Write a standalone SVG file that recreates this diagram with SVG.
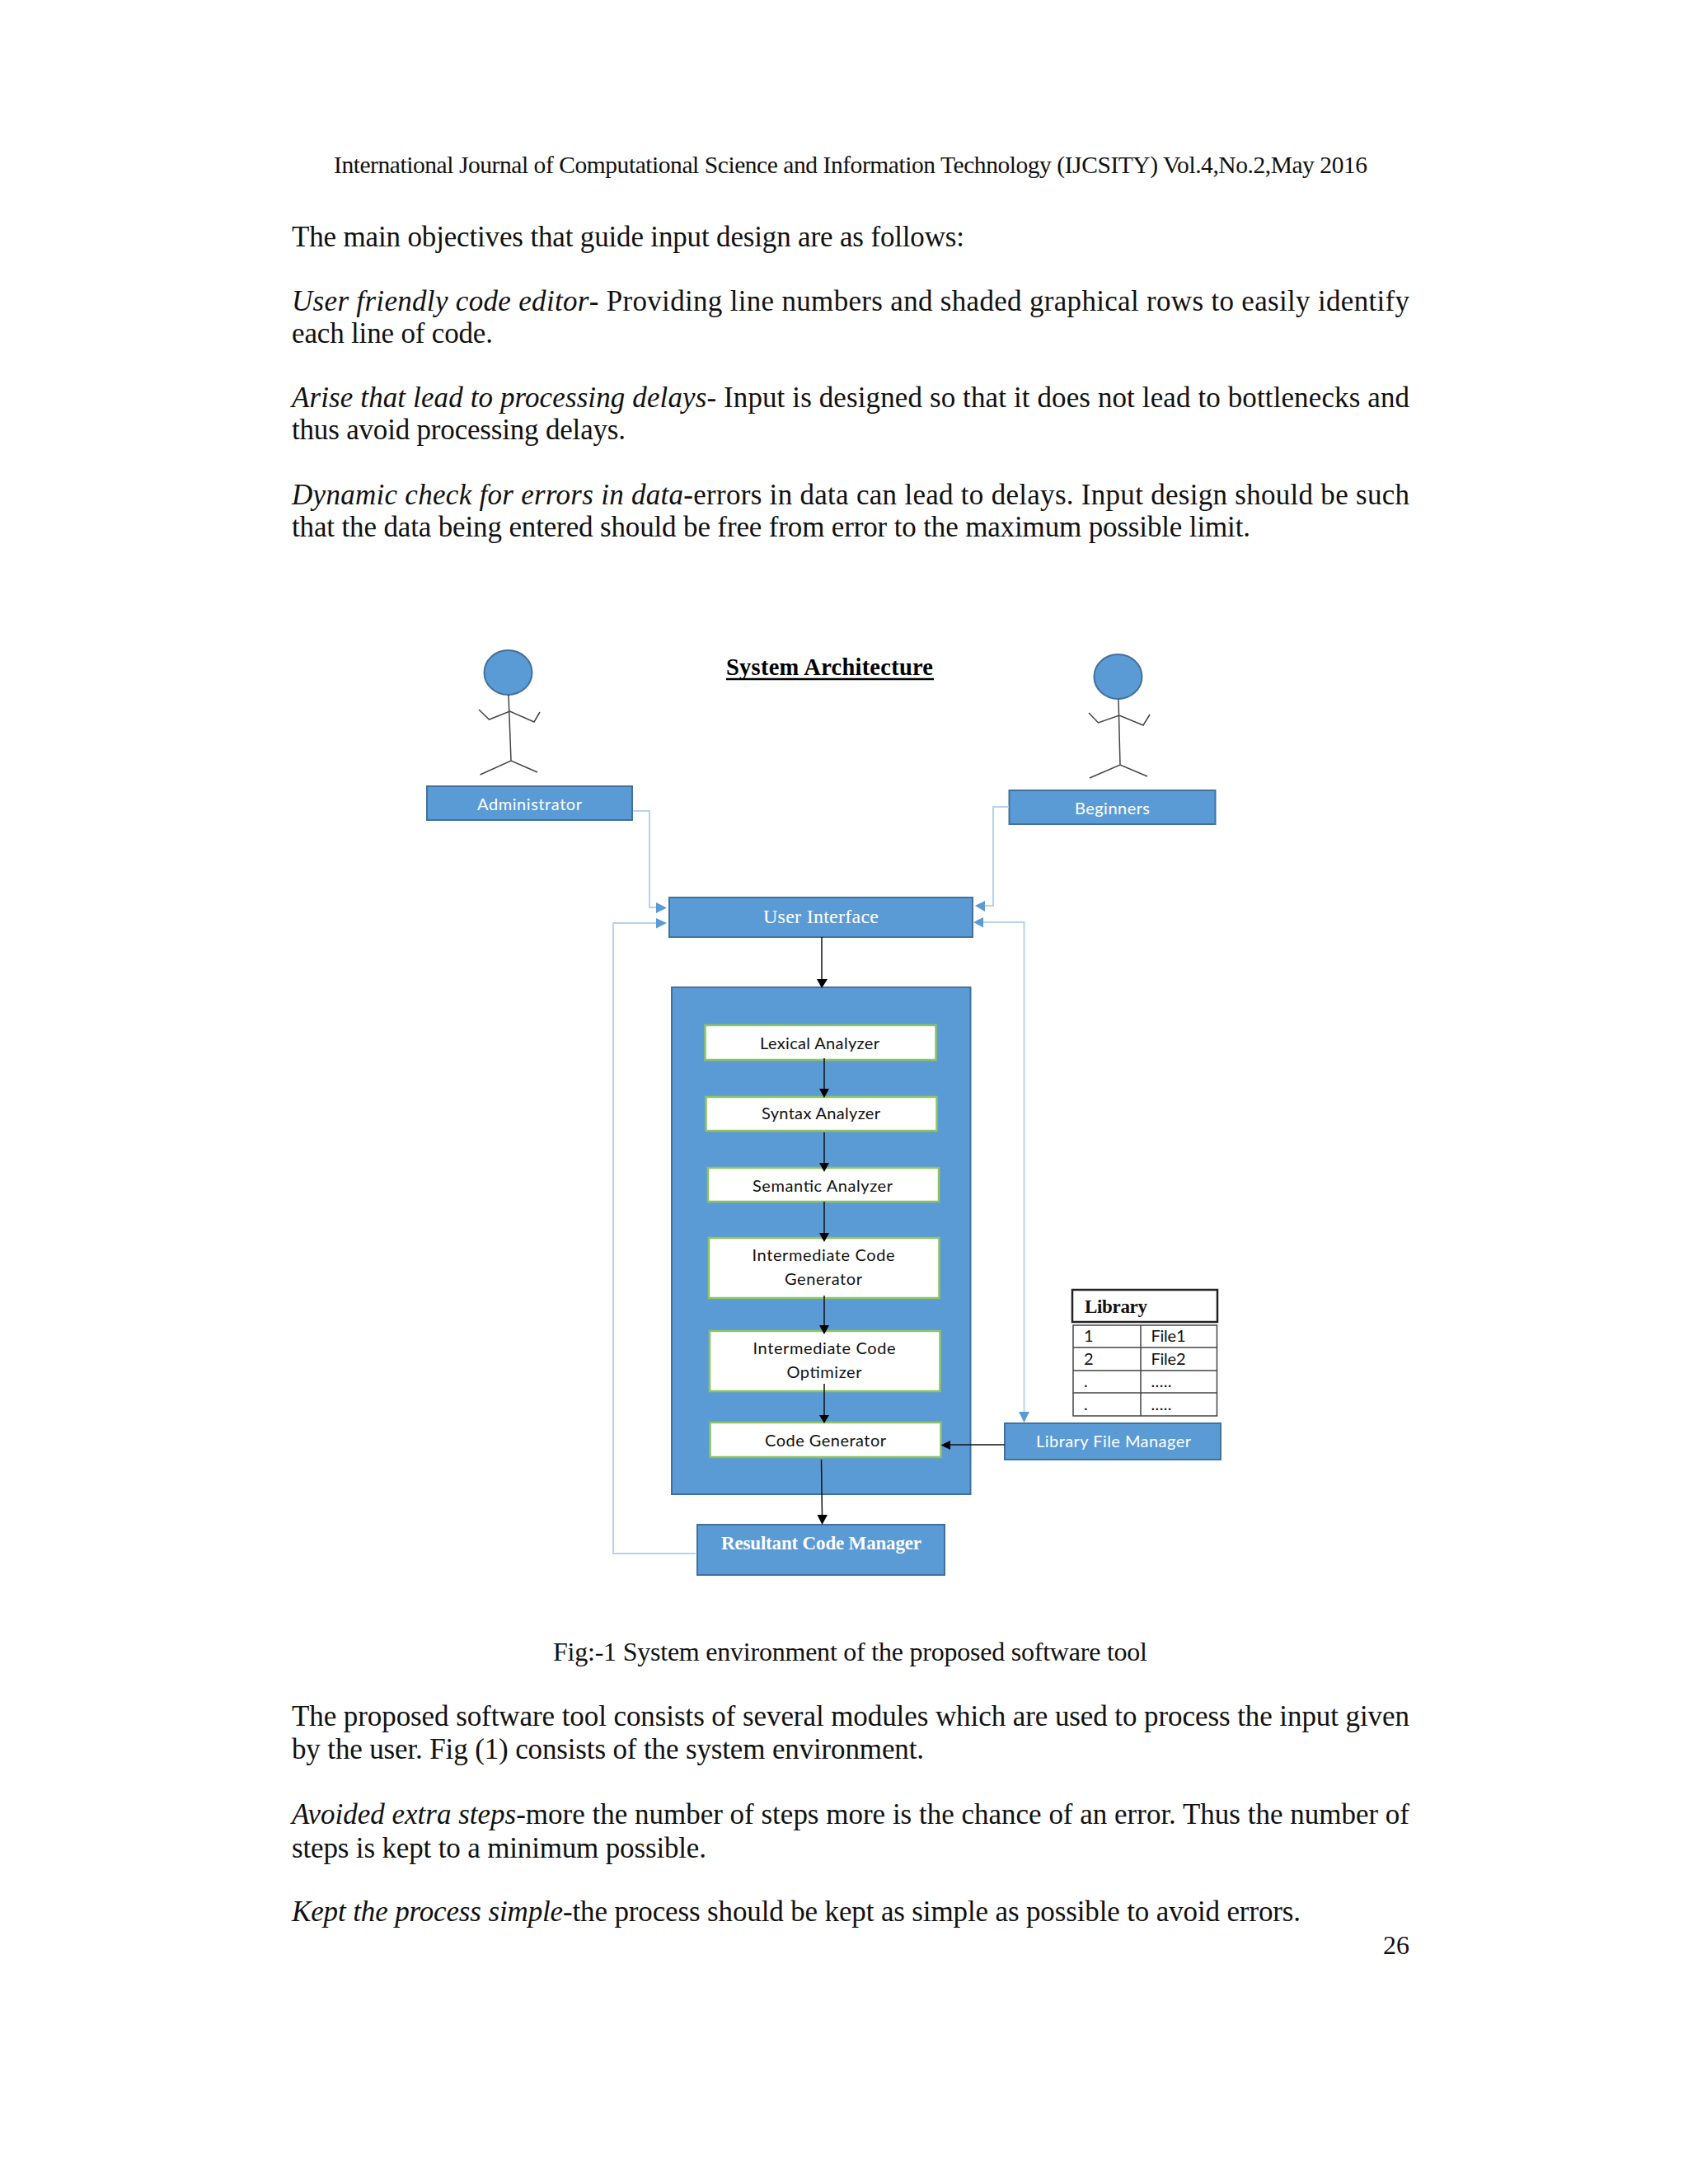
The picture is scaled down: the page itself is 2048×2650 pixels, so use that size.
<svg xmlns="http://www.w3.org/2000/svg" width="2048" height="2650" viewBox="0 0 2048 2650">
<style>
.t{font-family:"Liberation Serif","Times New Roman",serif;fill:#111;font-size:35px}
.h{font-size:29.500px}
.i{font-style:italic}
.b{fill:#5b9bd5;stroke:#41719c;stroke-width:2}
.w{fill:#fff;stroke:#8fc460;stroke-width:2.500}
.l{font-family:Lato,"Noto Sans",sans-serif;font-size:20px;text-anchor:start}
.lw{fill:#fff}.lk{fill:#111}
.s{font-family:"Liberation Serif",serif}
.p{fill:none;stroke:#444;stroke-width:1.500}
.c{fill:none;stroke:#b5d2ee;stroke-width:2}
.k{fill:none;stroke:#111;stroke-width:1.500}
.ah{fill:#5b9bd5}.ak{fill:#000}
</style>
<rect width="2048" height="2650" fill="#fff"/>
<g id="page-text">
<text class="t h" x="405" y="210" textLength="1254">International Journal of Computational Science and Information Technology (IJCSITY) Vol.4,No.2,May 2016</text>
<text class="t" x="354" y="299" textLength="816">The main objectives that guide input design are as follows:</text>
<text class="t" x="354" y="377" textLength="1356"><tspan class="i">User friendly code editor</tspan>- Providing line numbers and shaded graphical rows to easily identify</text>
<text class="t" x="354" y="416" textLength="244">each line of code.</text>
<text class="t" x="354" y="494" textLength="1356"><tspan class="i">Arise that lead to processing delays</tspan>- Input is designed so that it does not lead to bottlenecks and</text>
<text class="t" x="354" y="533" textLength="405">thus avoid processing delays.</text>
<text class="t" x="354" y="612" textLength="1356"><tspan class="i">Dynamic check for errors in data</tspan>-errors in data can lead to delays. Input design should be such</text>
<text class="t" x="354" y="651" textLength="1163">that the data being entered should be free from error to the maximum possible limit.</text>
<text class="t" x="671" y="2015" textLength="721" style="font-size:32px">Fig:-1 System environment of the proposed software tool</text>
<text class="t" x="354" y="2094" textLength="1356">The proposed software tool consists of several modules which are used to process the input given</text>
<text class="t" x="354" y="2134" textLength="767">by the user. Fig (1) consists of the system environment.</text>
<text class="t" x="354" y="2213" textLength="1356"><tspan class="i">Avoided extra steps</tspan>-more the number of steps more is the chance of an error. Thus the number of</text>
<text class="t" x="354" y="2254" textLength="503">steps is kept to a minimum possible.</text>
<text class="t" x="354" y="2331" textLength="1224"><tspan class="i">Kept the process simple</tspan>-the process should be kept as simple as possible to avoid errors.</text>
<text class="t" x="1678" y="2371" style="font-size:32px">26</text>
</g>
<g id="title">
<text class="s" x="881" y="819" font-weight="bold" font-size="28.500" fill="#000" textLength="251">System Architecture</text>
<line x1="881" y1="824" x2="1133" y2="824" stroke="#000" stroke-width="2.500"/>
</g>
<g id="actor-administrator">
<ellipse cx="616.500" cy="816" rx="29" ry="27" class="b"/>
<path class="p" d="M617 843L620 923M581 861L593.500 873L618.500 863L648 876L655 864M582.500 940L620 923L652 937"/>
</g>
<g id="actor-beginners">
<ellipse cx="1356.500" cy="821" rx="29" ry="27" class="b"/>
<path class="p" d="M1357 848L1359 928M1321 865L1332.500 877L1358 868L1387 880L1395 867M1322 944L1359 928L1392 942"/>
</g>
<g id="administrator"><rect class="b" x="518" y="954" width="249" height="41"/><text class="l lw" x="579" y="983" textLength="127">Administrator</text></g>
<g id="beginners"><rect class="b" x="1224.500" y="959" width="250" height="41"/><text class="l lw" x="1304" y="988" textLength="91">Beginners</text></g>
<g id="user-interface"><rect class="b" x="812" y="1089" width="368" height="48"/><text class="s" x="926" y="1120" font-size="24" fill="#fff" textLength="140">User Interface</text></g>
<g id="compiler"><rect class="b" x="815" y="1198" width="362.500" height="615"/></g>
<g id="lexical"><rect class="w" x="855.500" y="1244" width="280" height="42"/><text class="l lk" x="922" y="1273" textLength="145">Lexical Analyzer</text></g>
<g id="syntax"><rect class="w" x="856.500" y="1331" width="280" height="41"/><text class="l lk" x="924" y="1358" textLength="144">Syntax Analyzer</text></g>
<g id="semantic"><rect class="w" x="859" y="1417" width="280" height="41"/><text class="l lk" x="913" y="1446" textLength="170">Semantic Analyzer</text></g>
<g id="ic-generator"><rect class="w" x="860" y="1502" width="279.500" height="73"/><text class="l lk" x="912.500" y="1530" textLength="173">Intermediate Code</text><text class="l lk" x="952" y="1559" textLength="94">Generator</text></g>
<g id="ic-optimizer"><rect class="w" x="861" y="1615" width="279.500" height="73"/><text class="l lk" x="913.500" y="1643" textLength="173">Intermediate Code</text><text class="l lk" x="954.500" y="1672" textLength="91">Optimizer</text></g>
<g id="code-generator"><rect class="w" x="861.500" y="1726" width="280" height="42"/><text class="l lk" x="928" y="1755" textLength="147">Code Generator</text></g>
<g id="resultant"><rect class="b" x="846" y="1850" width="300" height="61"/><text class="s" x="875" y="1880" font-weight="bold" font-size="23" fill="#fff" textLength="243">Resultant Code Manager</text></g>
<g id="library-file-manager"><rect class="b" x="1219" y="1727" width="262" height="44"/><text class="l lw" x="1257" y="1756" textLength="188">Library File Manager</text></g>
<g id="library-table">
<rect x="1301" y="1565" width="176" height="39" fill="#fff" stroke="#222" stroke-width="2.500"/>
<text class="s" x="1316" y="1593" font-weight="bold" font-size="23" fill="#111" textLength="76">Library</text>
<path d="M1302 1608H1476.500V1718H1302ZM1384 1608V1718M1302 1635H1476.500M1302 1663H1476.500M1302 1690H1476.500" fill="none" stroke="#444" stroke-width="1.500"/>
<text class="l lk" x="1315" y="1628">1</text><text class="l lk" x="1396.500" y="1628" textLength="42">File1</text>
<text class="l lk" x="1315" y="1656">2</text><text class="l lk" x="1396.500" y="1656" textLength="42">File2</text>
<text class="l lk" x="1315" y="1683">.</text><text class="l lk" x="1396.500" y="1683" textLength="25">.....</text>
<text class="l lk" x="1315" y="1711">.</text><text class="l lk" x="1396.500" y="1711" textLength="25">.....</text>
</g>
<g id="connectors">
<path class="c" d="M768 984H788V1101H798"/>
<path class="ah" d="M809 1101.500L796 1095V1108Z"/>
<path class="c" d="M1224 979H1205V1099H1194"/>
<path class="ah" d="M1183 1099L1195 1093V1106Z"/>
<path class="c" d="M844 1885H744V1120H798"/>
<path class="ah" d="M809 1120L796 1114V1126.500Z"/>
<path class="c" d="M1192 1119H1242.500V1716"/>
<path class="ah" d="M1181 1119L1193 1113V1125.500Z"/>
<path class="ah" d="M1242.500 1726L1236 1713H1249Z"/>
<path class="k" d="M997 1137V1190"/><path class="ak" d="M997 1199L991 1188H1004Z"/>
<path class="k" d="M1000 1284V1322"/><path class="ak" d="M1000 1332L994 1321H1006Z"/>
<path class="k" d="M1000 1374V1412"/><path class="ak" d="M1000 1422L994 1411H1006Z"/>
<path class="k" d="M1000 1458V1497"/><path class="ak" d="M1000 1507L994 1496H1006Z"/>
<path class="k" d="M1000 1572V1609"/><path class="ak" d="M1000 1619L994 1608H1006Z"/>
<path class="k" d="M1000 1679V1718"/><path class="ak" d="M1000 1727L994 1717H1006Z"/>
<path class="k" d="M996.500 1771L997.500 1840"/><path class="ak" d="M997.500 1850L991.500 1838H1004Z"/>
<path class="k" d="M1219 1753H1152"/><path class="ak" d="M1141.500 1753.500L1153 1748V1759Z"/>
</g>
</svg>
